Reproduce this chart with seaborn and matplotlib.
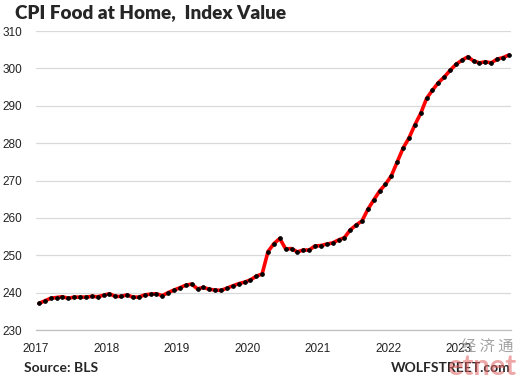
import matplotlib
matplotlib.use("Agg")
import matplotlib.pyplot as plt
import seaborn as sns
import pandas as pd
import numpy as np

# monthly CPI food at home, Jan 2017 - Sep 2023
start_year = 2017
cpi_2017 = [237.1, 237.8, 238.5, 238.7, 238.9, 238.5, 238.8, 238.8, 238.8, 239.0, 238.9, 239.3]
cpi_2018 = [239.7, 239.0, 239.0, 239.4, 238.8, 238.8, 239.4, 239.6, 239.7, 239.2, 240.0, 240.7]
cpi_2019 = [241.3, 242.0, 242.3, 241.0, 241.4, 240.9, 240.7, 240.6, 241.2, 241.8, 242.4, 242.8]
cpi_2020 = [243.4, 244.4, 245.0, 251.0, 253.1, 254.5, 251.7, 251.8, 250.9, 251.4, 251.4, 252.5]
cpi_2021 = [252.6, 253.0, 253.3, 254.1, 254.7, 256.8, 258.1, 259.2, 262.3, 264.8, 267.2, 269.0]
cpi_2022 = [271.3, 275.0, 278.7, 281.4, 284.9, 288.0, 292.0, 294.2, 296.2, 297.7, 299.5, 301.1]
cpi_2023 = [302.2, 303.1, 302.0, 301.5, 301.8, 301.5, 302.5, 302.9, 303.6]

year_labels = ["2017", "2018", "2019", "2020", "2021", "2022", "2023"]
y_ticks = [230, 240, 250, 260, 270, 280, 290, 300, 310]

values = cpi_2017 + cpi_2018 + cpi_2019 + cpi_2020 + cpi_2021 + cpi_2022 + cpi_2023
months = np.arange(len(values))
df = pd.DataFrame({"t": start_year + (months + 0.5) / 12, "cpi": values})

sns.set_style("white")
plt.rcParams["font.family"] = ["Liberation Sans", "DejaVu Sans"]

fig = plt.figure(figsize=(5.21, 3.84), dpi=100)
ax = fig.add_axes([0.069, 0.1406, 0.912, 0.7784])

sns.lineplot(data=df, x="t", y="cpi", ax=ax, color="#ff0000", linewidth=2.6,
             marker="o", markersize=2.6, markerfacecolor="black",
             markeredgecolor="black", zorder=3)

ax.set_xlim(2017, 2023.74)
ax.set_ylim(230, 310)
ax.set_yticks(y_ticks)
ax.set_yticklabels([str(v) for v in y_ticks], fontsize=8.5, color="#222222")
ax.yaxis.grid(True, color="#d9d9d9", linewidth=0.9)
ax.set_axisbelow(True)

ax.set_xticks([int(y) for y in year_labels])
ax.set_xticklabels(year_labels, fontsize=8.5, color="#222222")
ax.tick_params(axis="x", direction="out", length=4, width=0.8, color="#bfbfbf", pad=5)
ax.tick_params(axis="y", length=0, pad=10)

for side in ["top", "right", "left"]:
    ax.spines[side].set_visible(False)
ax.spines["bottom"].set_color("#bfbfbf")
ax.spines["bottom"].set_linewidth(0.9)
ax.set_xlabel("")
ax.set_ylabel("")

fig.text(0.028, 0.968, "CPI Food at Home,  Index Value", fontsize=13.6,
         fontweight="heavy", family=["Lato", "DejaVu Sans"], va="center", ha="left")
fig.text(0.046, 0.042, "Source: BLS", fontsize=10, fontweight="bold",
         family=["Lato", "DejaVu Sans"], va="center", ha="left")
fig.text(0.981, 0.042, "WOLFSTREET.com", fontsize=10, fontweight="bold",
         family=["Lato", "DejaVu Sans"], va="center", ha="right")

# watermark
fig.text(0.985, 0.095, "经 济 通", fontsize=11, color="#8a8a8a", alpha=0.8,
         family=["Noto Sans CJK SC", "DejaVu Sans"], va="center", ha="right")
fig.text(0.99, 0.045, "etnet", fontsize=21, fontweight="bold", color="#e06060",
         alpha=0.55, family=["Lato", "DejaVu Sans"], va="center", ha="right")

fig.savefig("out.png", dpi=100)
